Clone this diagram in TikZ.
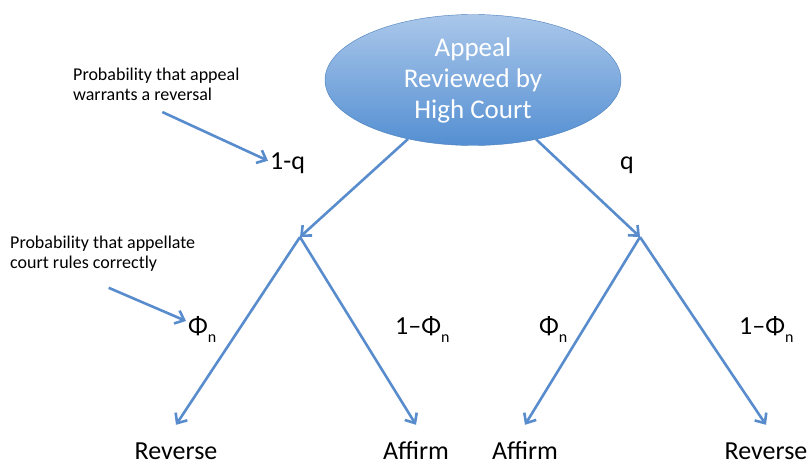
\documentclass[tikz,border=0pt]{standalone}
\usepackage{fontspec}
\setmainfont{Carlito}
\usetikzlibrary{arrows.meta,shapes.geometric}
\definecolor{branchblue}{RGB}{88,140,204}
\definecolor{courttop}{RGB}{170,199,234}
\definecolor{courtbot}{RGB}{84,143,210}
\definecolor{courtline}{RGB}{74,126,187}
\newcommand{\Phin}{Φ\raisebox{-8pt}{\fontsize{16pt}{16pt}\selectfont n}}

\begin{document}
\begin{tikzpicture}[
    x=1pt, y=-1pt,
    court/.style={ellipse, draw=courtline, top color=courttop, bottom color=courtbot, text=white, align=center, inner sep=0pt, minimum width=296pt, minimum height=131pt, font=\fontsize{27pt}{31pt}\selectfont},
    branch/.style={-{Straight Barb[length=8pt,width=14pt]}, line width=2.6pt, draw=branchblue},
    leaf/.style={font=\fontsize{26pt}{30pt}\selectfont, anchor=base, text height=34pt, text depth=0pt, inner xsep=2pt, inner ysep=0pt},
    prob/.style={font=\fontsize{26pt}{30pt}\selectfont, anchor=base west, inner sep=2pt},
    note/.style={font=\fontsize{18pt}{20pt}\selectfont, align=left, anchor=north west, inner sep=0pt}
  ]
    \useasboundingbox (0,0) rectangle (811,465);
    \node[court] (appeal) at (473,80) {Appeal\\Reviewed by\\High Court};
    \coordinate (lsplit) at (300,237);
    \coordinate (rsplit) at (640,237);
    % outcomes
    \node[leaf] (lrev) at (176,459) {Reverse};
    \node[leaf] (laff) at (416,459) {Affirm};
    \node[leaf] (raff) at (525,459) {Affirm};
    \node[leaf] (rrev) at (766,459) {Reverse};
    % branch probabilities
    \node[prob] (oneq) at (268,170) {1-q};
    \node[prob] (qlbl) at (618,170) {q};
    \node[prob] (phil) at (186,334) {\Phin};
    \node[prob] (omphil) at (393,334) {1–\Phin};
    \node[prob] (phir) at (537,334) {\Phin};
    \node[prob] (omphir) at (737,334) {1–\Phin};
    % notes
    \node[note] (noteq) at (73,68) {Probability that appeal\\warrants a reversal};
    \node[note] (notephi) at (10,236) {Probability that appellate\\court rules correctly};
    \draw[branch] (appeal) -- (lsplit);
    \draw[branch] (appeal) -- (rsplit);
    \draw[branch] (lsplit) -- (lrev.north);
    \draw[branch] (lsplit) -- (laff.north);
    \draw[branch] (rsplit) -- (raff.north);
    \draw[branch] (rsplit) -- (rrev.north);
    \draw[branch] ([xshift=6pt,yshift=-11pt]noteq.south) -- ([yshift=3pt]oneq.west);
    \draw[branch] ([xshift=6pt,yshift=-16pt]notephi.south) -- ([yshift=8pt]phil.west);
  \end{tikzpicture}
\end{document}
